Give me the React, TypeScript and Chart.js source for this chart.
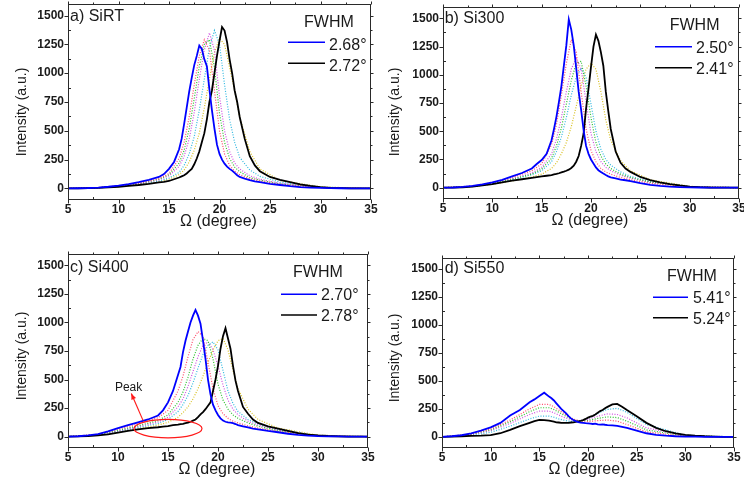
import React, { useEffect, useRef } from 'react';
import { Chart, registerables } from 'chart.js';
Chart.register(...registerables);

const FONT = '"Liberation Sans", Arial, sans-serif';

// ---- data ----
const X_MAIN = [5, 6, 7, 8, 9, 10, 11, 12, 13, 14, 14.5, 15, 15.5, 16, 16.25, 16.5, 16.75, 17, 17.25, 17.5, 17.75, 18, 18.25, 18.5, 18.75, 19, 19.25, 19.5, 19.75, 20, 20.25, 20.5, 20.75, 21, 21.25, 21.5, 21.75, 22, 22.5, 23, 23.5, 24, 25, 26, 27, 28, 29, 30, 31, 32, 33, 34, 35];
const X_MID = [5, 8, 10, 12, 14, 15, 16, 16.5, 17, 17.5, 18, 18.5, 19, 19.5, 20, 20.5, 21, 21.5, 22, 23, 24, 26, 30, 35];
const X_TICKS = [5, 10, 15, 20, 25, 30, 35];
const X_MINOR = [7.5, 12.5, 17.5, 22.5, 27.5, 32.5];
const Y_TICKS = [0, 250, 500, 750, 1000, 1250, 1500];
const Y_MINOR = [125, 375, 625, 875, 1125, 1375];

const SIRT_BLUE = [0, 2, 4, 8, 15, 25, 38, 55, 75, 100, 125, 170, 230, 340, 430, 560, 700, 840, 960, 1070, 1150, 1240, 1210, 1120, 1060, 860, 680, 520, 380, 300, 250, 215, 190, 170, 155, 135, 115, 100, 85, 72, 62, 55, 40, 30, 20, 12, 8, 5, 3, 2, 1, 0, 0];
const SIRT_BLACK = [0, 1, 3, 6, 10, 15, 22, 30, 40, 52, 58, 65, 80, 95, 105, 115, 130, 150, 170, 210, 260, 320, 400, 480, 600, 750, 850, 1000, 1150, 1280, 1400, 1370, 1270, 1120, 1000, 850, 750, 620, 430, 280, 200, 150, 100, 75, 55, 35, 22, 12, 6, 3, 1, 0, 0];
const SI300_BLUE = [0, 2, 7, 16, 30, 48, 70, 100, 130, 170, 210, 245, 300, 420, 520, 630, 760, 900, 1080, 1260, 1490, 1400, 1260, 1060, 850, 690, 510, 370, 300, 250, 215, 180, 155, 140, 125, 112, 100, 92, 82, 72, 66, 58, 40, 26, 16, 10, 6, 3, 2, 1, 0, 0, 0];
const SI300_BLACK = [0, 1, 4, 10, 20, 32, 48, 62, 75, 88, 94, 100, 106, 112, 118, 122, 128, 135, 142, 150, 160, 175, 195, 230, 280, 370, 480, 700, 880, 1070, 1250, 1355, 1300, 1200, 1080, 850, 680, 520, 320, 220, 170, 140, 95, 68, 48, 32, 20, 10, 5, 2, 1, 0, 0];
const SI400_BLUE = [0, 3, 10, 22, 45, 75, 100, 125, 150, 185, 230, 300, 400, 540, 610, 740, 840, 920, 1000, 1060, 1110, 1060, 990, 840, 680, 500, 370, 280, 230, 190, 160, 140, 130, 125, 122, 118, 110, 100, 90, 80, 70, 64, 50, 38, 25, 15, 8, 4, 2, 1, 0, 0, 0];
const SI400_BLACK = [0, 1, 4, 10, 20, 35, 50, 64, 75, 82, 88, 92, 100, 105, 110, 112, 118, 122, 130, 140, 150, 170, 195, 215, 240, 270, 300, 400, 500, 620, 770, 880, 950, 860, 770, 620, 490, 400, 260, 200, 150, 120, 90, 70, 50, 30, 18, 10, 5, 2, 0, 0, 0];
const SI550_BLUE = [0, 5, 14, 30, 55, 85, 125, 190, 240, 310, 335, 365, 395, 360, 345, 325, 300, 275, 250, 230, 210, 185, 165, 150, 140, 132, 128, 125, 122, 120, 118, 115, 118, 112, 110, 112, 108, 105, 102, 98, 90, 80, 55, 32, 18, 10, 5, 2, 1, 0, 0, 0, 0];
const SI550_BLACK = [0, 2, 5, 8, 10, 15, 32, 62, 95, 125, 140, 152, 150, 145, 140, 135, 130, 128, 125, 125, 124, 125, 128, 130, 133, 138, 142, 150, 160, 172, 180, 188, 200, 215, 230, 240, 255, 268, 290, 295, 270, 240, 185, 125, 80, 50, 30, 18, 10, 5, 2, 0, 0];

const SIRT_MID_1 = [0, 8, 22, 45, 85, 130, 260, 400, 620, 900, 1150, 1290, 1200, 850, 500, 300, 200, 150, 120, 85, 65, 35, 8, 0];
const SIRT_MID_2 = [0, 7, 20, 40, 75, 110, 190, 280, 430, 660, 950, 1200, 1350, 1200, 800, 500, 320, 220, 170, 110, 80, 45, 10, 0];
const SIRT_MID_3 = [0, 6, 18, 35, 65, 90, 140, 200, 300, 450, 680, 950, 1220, 1370, 1250, 900, 600, 400, 270, 160, 105, 55, 12, 0];
const SIRT_MID_4 = [0, 6, 16, 32, 58, 80, 120, 160, 230, 330, 480, 700, 950, 1180, 1300, 1250, 1050, 850, 620, 320, 170, 70, 14, 0];
const SIRT_MID_5 = [0, 7, 21, 42, 80, 120, 220, 330, 520, 780, 1060, 1250, 1290, 1050, 650, 400, 260, 185, 145, 95, 72, 40, 9, 0];
const SI300_MID_1 = [0, 15, 45, 90, 150, 210, 380, 560, 820, 1100, 1310, 1200, 850, 520, 330, 230, 170, 140, 120, 90, 70, 40, 8, 0];
const SI300_MID_2 = [0, 13, 40, 80, 130, 180, 300, 430, 620, 850, 1050, 1150, 1050, 760, 480, 320, 230, 180, 150, 110, 85, 48, 9, 0];
const SI300_MID_3 = [0, 11, 35, 70, 115, 150, 230, 320, 450, 620, 820, 980, 1060, 980, 740, 500, 340, 250, 200, 140, 100, 55, 10, 0];
const SI300_MID_4 = [0, 10, 30, 60, 95, 120, 170, 220, 300, 400, 540, 720, 900, 1050, 1100, 1050, 850, 600, 420, 240, 150, 70, 12, 0];
const SI300_MID_5 = [0, 12, 38, 75, 120, 165, 260, 370, 530, 740, 950, 1100, 1120, 900, 620, 400, 280, 210, 170, 120, 90, 50, 9, 0];
const SI400_MID_1 = [0, 20, 65, 110, 165, 230, 400, 530, 700, 850, 920, 880, 650, 420, 270, 200, 160, 135, 120, 95, 75, 45, 8, 0];
const SI400_MID_2 = [0, 17, 55, 95, 140, 190, 300, 390, 520, 680, 800, 860, 840, 680, 460, 320, 240, 190, 160, 120, 90, 52, 9, 0];
const SI400_MID_3 = [0, 14, 45, 80, 115, 150, 220, 280, 360, 470, 600, 720, 800, 830, 760, 580, 400, 290, 220, 150, 110, 60, 10, 0];
const SI400_MID_4 = [0, 12, 40, 70, 100, 125, 170, 210, 260, 330, 420, 530, 650, 760, 840, 860, 760, 580, 420, 240, 150, 75, 12, 0];
const SI400_MID_5 = [0, 15, 50, 88, 128, 170, 260, 330, 440, 570, 700, 800, 830, 760, 620, 450, 320, 240, 190, 135, 100, 56, 10, 0];
const SI550_MID_1 = [0, 25, 70, 150, 250, 290, 290, 270, 240, 210, 180, 160, 145, 140, 138, 140, 145, 148, 150, 140, 110, 45, 5, 0];
const SI550_MID_2 = [0, 20, 55, 120, 200, 230, 230, 215, 195, 175, 160, 150, 145, 148, 155, 170, 185, 195, 205, 200, 170, 80, 10, 0];
const SI550_MID_3 = [0, 15, 40, 95, 160, 185, 185, 175, 160, 150, 140, 138, 140, 150, 165, 185, 210, 230, 245, 255, 220, 110, 14, 0];
const SI550_MID_4 = [0, 22, 62, 135, 225, 260, 260, 245, 220, 195, 172, 155, 145, 144, 146, 155, 165, 172, 178, 172, 140, 62, 7, 0];

const PANEL_TITLES = ['a) SiRT', 'b) Si300', 'c) Si400', 'd) Si550'];
const FWHM_BLUE = ['2.68°', '2.50°', '2.70°', '5.41°'];
const FWHM_BLACK = ['2.72°', '2.41°', '2.78°', '5.24°'];
const BLUE_SERIES = [SIRT_BLUE, SI300_BLUE, SI400_BLUE, SI550_BLUE];
const BLACK_SERIES = [SIRT_BLACK, SI300_BLACK, SI400_BLACK, SI550_BLACK];
const MID_SERIES = [
  [SIRT_MID_1, SIRT_MID_5, SIRT_MID_2, SIRT_MID_3, SIRT_MID_4],
  [SI300_MID_1, SI300_MID_5, SI300_MID_2, SI300_MID_3, SI300_MID_4],
  [SI400_MID_1, SI400_MID_2, SI400_MID_5, SI400_MID_3, SI400_MID_4],
  [SI550_MID_1, SI550_MID_4, SI550_MID_2, SI550_MID_3],
];

// panel c annotation (data coordinates)
const PEAK_LABEL = { x: 11.06, y: 432, text: 'Peak' };
const PEAK_ARROW = { x0: 12.5, y0: 142, x1: 11.33, y1: 377 };
const PEAK_ELLIPSE = { x: 15.0, y: 70, rx: 3.4, ry: 81 };

// ---- styles / layout ----
const BLUE = '#0000ff';
const BLACK = '#000000';
const MID_COLORS = ['#ff4a6a', '#2ec02e', '#d050e0', '#30b8e0', '#d8c020'];
const TEXT = '#1a1a1a';
const AXIS = '#2a2a2a';

const LAYOUTS = [
  { left: 0, top: 0, w: 380, h: 245, area: { l: 68, t: 4, r: 371, b: 200 }, yTitle: [22, 112], label: [70, 20.5], fwhm: [304, 27.3], legX: [288, 325, 329], legY: [42.3, 63.3], legBase: [50, 70.7] },
  { left: 372, top: 0, w: 372, h: 245, area: { l: 71, t: 7, r: 367, b: 199 }, yTitle: [23, 112], label: [72.7, 23], fwhm: [297.7, 30], legX: [283, 320, 324], legY: [46.7, 67.7], legBase: [52.7, 74] },
  { left: 0, top: 245, w: 380, h: 246, area: { l: 68, t: 9, r: 368, b: 203 }, yTitle: [22, 111], label: [70, 26.7], fwhm: [293, 32.3], legX: [281, 317, 321], legY: [49.3, 70], legBase: [55, 75.7] },
  { left: 372, top: 245, w: 372, h: 246, area: { l: 70, t: 13, r: 362, b: 203 }, yTitle: [23, 113], label: [72.7, 28.3], fwhm: [295, 36], legX: [281, 316, 321], legY: [52.3, 72.7], legBase: [58.3, 79] },
];

function makePlugin(idx: number) {
  const L = LAYOUTS[idx];
  return {
    id: 'deco' + idx,
    afterDraw(chart: any) {
      const ctx = chart.ctx as CanvasRenderingContext2D;
      const xs = chart.scales.x;
      const ys = chart.scales.y;
      const ca = chart.chartArea;
      const l = Math.round(ca.left) + 0.5;
      const r = Math.round(ca.right) - 0.5;
      const t = Math.round(ca.top) + 0.5;
      const b = Math.round(ca.bottom) - 0.5;
      ctx.save();
      ctx.strokeStyle = AXIS;
      ctx.lineWidth = 1;
      ctx.strokeRect(l, t, r - l, b - t);
      const seg = (x0: number, y0: number, x1: number, y1: number) => {
        ctx.beginPath(); ctx.moveTo(x0, y0); ctx.lineTo(x1, y1); ctx.stroke();
      };
      X_TICKS.forEach((v) => {
        const p = Math.round(xs.getPixelForValue(v)) + 0.5;
        seg(p, b, p, b + 4);
        seg(p, t, p, t - 3);
      });
      X_MINOR.forEach((v) => {
        const p = Math.round(xs.getPixelForValue(v)) + 0.5;
        seg(p, b, p, b - 2.5);
        seg(p, t, p, t - 2);
      });
      Y_TICKS.forEach((v) => {
        const p = Math.round(ys.getPixelForValue(v)) + 0.5;
        seg(l, p, l - 4, p);
        seg(r, p, r + 3, p);
      });
      Y_MINOR.forEach((v) => {
        const p = Math.round(ys.getPixelForValue(v)) + 0.5;
        seg(l, p, l + 2.5, p);
        seg(r, p, r + 2, p);
      });

      ctx.fillStyle = TEXT;
      ctx.save();
      ctx.translate(L.yTitle[0], L.yTitle[1]);
      ctx.rotate(-Math.PI / 2);
      ctx.font = `14px ${FONT}`;
      ctx.textAlign = 'center';
      ctx.textBaseline = 'middle';
      ctx.fillText('Intensity (a.u.)', 0, 0);
      ctx.restore();
      ctx.font = `16px ${FONT}`;
      ctx.textAlign = 'center';
      ctx.textBaseline = 'alphabetic';
      ctx.fillText('\u03A9 (degree)', (ca.left + ca.right) / 2 - 1, ca.bottom + 26);
      ctx.textAlign = 'left';
      ctx.fillText(PANEL_TITLES[idx], L.label[0], L.label[1]);
      ctx.fillText('FWHM', L.fwhm[0], L.fwhm[1]);
      ctx.lineWidth = 1.5;
      ctx.strokeStyle = BLUE;
      seg(L.legX[0], L.legY[0], L.legX[1], L.legY[0]);
      ctx.strokeStyle = BLACK;
      seg(L.legX[0], L.legY[1], L.legX[1], L.legY[1]);
      ctx.fillText(FWHM_BLUE[idx], L.legX[2], L.legBase[0]);
      ctx.fillText(FWHM_BLACK[idx], L.legX[2], L.legBase[1]);

      if (idx === 2) {
        ctx.strokeStyle = '#ff1a1a';
        ctx.fillStyle = '#ff1a1a';
        ctx.lineWidth = 1.2;
        const cx = xs.getPixelForValue(PEAK_ELLIPSE.x);
        const cy = ys.getPixelForValue(PEAK_ELLIPSE.y);
        const rx = xs.getPixelForValue(PEAK_ELLIPSE.x + PEAK_ELLIPSE.rx) - cx;
        const ry = cy - ys.getPixelForValue(PEAK_ELLIPSE.y + PEAK_ELLIPSE.ry);
        ctx.beginPath();
        ctx.ellipse(cx, cy, rx, ry, 0, 0, Math.PI * 2);
        ctx.stroke();
        const ax0 = xs.getPixelForValue(PEAK_ARROW.x0);
        const ay0 = ys.getPixelForValue(PEAK_ARROW.y0);
        const ax1 = xs.getPixelForValue(PEAK_ARROW.x1);
        const ay1 = ys.getPixelForValue(PEAK_ARROW.y1);
        seg(ax0, ay0, ax1, ay1);
        const ang = Math.atan2(ay1 - ay0, ax1 - ax0);
        const hl = 6, hw = 2.5;
        ctx.beginPath();
        ctx.moveTo(ax1, ay1);
        ctx.lineTo(ax1 - hl * Math.cos(ang) + hw * Math.sin(ang), ay1 - hl * Math.sin(ang) - hw * Math.cos(ang));
        ctx.lineTo(ax1 - hl * Math.cos(ang) - hw * Math.sin(ang), ay1 - hl * Math.sin(ang) + hw * Math.cos(ang));
        ctx.closePath();
        ctx.fill();
        ctx.fillStyle = TEXT;
        ctx.font = `12px ${FONT}`;
        ctx.textAlign = 'center';
        ctx.textBaseline = 'middle';
        ctx.fillText(PEAK_LABEL.text, xs.getPixelForValue(PEAK_LABEL.x), ys.getPixelForValue(PEAK_LABEL.y));
      }
      ctx.restore();
    },
  };
}

function Panel({ idx }: { idx: number }) {
  const ref = useRef<HTMLCanvasElement | null>(null);
  const L = LAYOUTS[idx];
  useEffect(() => {
    if (!ref.current) return;
    const toPts = (xs: number[], ys: number[]) => xs.map((x, i) => ({ x, y: ys[i] }));
    const datasets: any[] = [
      { data: toPts(X_MAIN, BLUE_SERIES[idx]), borderColor: BLUE, borderWidth: 1.8, pointRadius: 0 },
      { data: toPts(X_MAIN, BLACK_SERIES[idx]), borderColor: BLACK, borderWidth: 1.8, pointRadius: 0 },
      ...MID_SERIES[idx].map((m, k) => ({
        data: toPts(X_MID, m),
        borderColor: MID_COLORS[k % MID_COLORS.length],
        borderWidth: 1.2,
        borderDash: [1, 1.6],
        pointRadius: 0,
      })),
    ];
    const tickFont = { family: FONT, size: 12, weight: 'bold' as const };
    const chart = new Chart(ref.current, {
      type: 'line',
      data: { datasets },
      options: {
        animation: false,
        responsive: false,
        maintainAspectRatio: false,
        devicePixelRatio: 1,
        layout: { padding: { left: 0, top: L.area.t, right: L.w - L.area.r, bottom: 0 } },
        plugins: { legend: { display: false }, tooltip: { enabled: false } },
        elements: { line: { tension: 0 }, point: { radius: 0 } },
        scales: {
          x: {
            type: 'linear',
            min: 5,
            max: 35,
            afterBuildTicks: (s: any) => { s.ticks = X_TICKS.map((v) => ({ value: v })); },
            afterFit: (s: any) => {
              s.height = L.h - L.area.b;
              s.paddingLeft = 0; s.paddingRight = 0; s.paddingTop = 0; s.paddingBottom = 0;
            },
            grid: { display: false, drawTicks: false, tickLength: 0 },
            border: { display: false },
            ticks: { font: tickFont, color: TEXT, padding: 2, maxRotation: 0, autoSkip: false, callback: (v: any) => String(v) },
          },
          y: {
            type: 'linear',
            min: -100,
            max: 1600,
            afterBuildTicks: (s: any) => { s.ticks = Y_TICKS.map((v) => ({ value: v })); },
            afterFit: (s: any) => {
              s.width = L.area.l;
              s.paddingLeft = 0; s.paddingRight = 0; s.paddingTop = 0; s.paddingBottom = 0;
            },
            grid: { display: false, drawTicks: false, tickLength: 0 },
            border: { display: false },
            ticks: { font: tickFont, color: TEXT, padding: 4, autoSkip: false, callback: (v: any) => String(v) },
          },
        },
      },
      plugins: [makePlugin(idx)],
    } as any);
    return () => chart.destroy();
  }, [idx]);
  return (
    <canvas
      ref={ref}
      width={L.w}
      height={L.h}
      style={{ position: 'absolute', left: L.left, top: L.top, width: L.w, height: L.h }}
    />
  );
}

export default function App() {
  return (
    <div style={{ position: 'fixed', left: 0, top: 0, width: 744, height: 491, background: '#fff', overflow: 'hidden' }}>
      {[0, 1, 2, 3].map((i) => (
        <Panel key={i} idx={i} />
      ))}
    </div>
  );
}
